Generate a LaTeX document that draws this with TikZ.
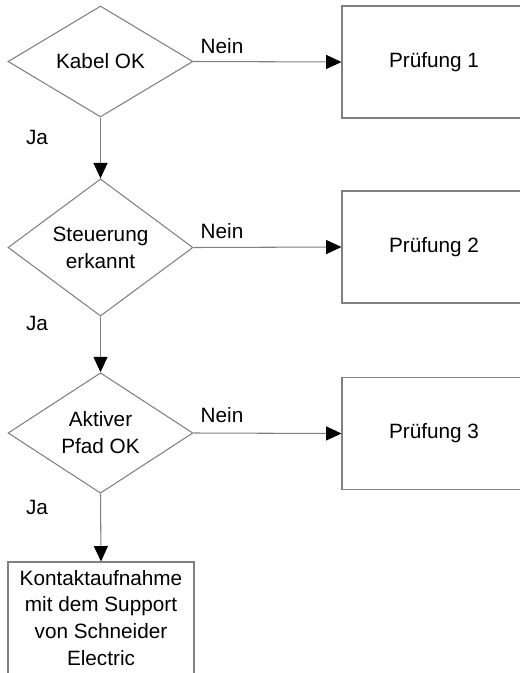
\documentclass[tikz,border=0pt]{standalone}
\usepackage{fontspec}
\setmainfont{Liberation Sans}
\usetikzlibrary{shapes.geometric,arrows.meta}
\definecolor{liniengrau}{RGB}{128,128,128}
\tikzset{
  frage/.style={diamond,draw=liniengrau,line width=0.6pt,minimum width=3.7cm,minimum height=2.22cm,inner sep=0pt,align=center},
  pruefbox/.style={rectangle,draw=liniengrau,line width=0.6pt,minimum width=3.68cm,minimum height=2.24cm,inner sep=0pt,align=center},
  pfeil/.style={draw=liniengrau,line width=0.6pt,-{Triangle[black,length=8.8pt,width=8pt]}},
}
\begin{document}
\begin{tikzpicture}[x=0.02cm,y=-0.02cm,font=\fontsize{11.8}{15.3}\selectfont]
\clip (0,0) rectangle (520,673);
% Fragen
\node[frage] (kabel) at (100.5,61.5) {Kabel OK};
\node[frage] (steuerung) at (100.5,247.5) {Steuerung\\erkannt};
\node[frage] (pfad) at (100.5,433) {Aktiver\\Pfad OK};
% Pruefungen
\node[pruefbox] (pruef1) at (434,62) {Prüfung 1};
\node[pruefbox] (pruef2) at (434,247) {Prüfung 2};
\node[pruefbox] (pruef3) at (434,433.5) {Prüfung 3};
\node[pruefbox,minimum width=3.72cm] (support) at (101,618) {Kontaktaufnahme\\mit dem Support\\von Schneider\\Electric};
% Pfeile
\draw[pfeil] (kabel.east) -- (pruef1.west);
\draw[pfeil] (steuerung.east) -- (pruef2.west);
\draw[pfeil] (pfad.east) -- (pruef3.west);
\draw[pfeil] (kabel.south) -- (steuerung.north);
\draw[pfeil] (steuerung.south) -- (pfad.north);
\draw[pfeil] (pfad.south) -- (support.north);
% Beschriftungen
\node (nein1) at (222,46) {Nein};
\node (nein2) at (222,231) {Nein};
\node (nein3) at (222,415) {Nein};
\node (ja1) at (37,137) {Ja};
\node (ja2) at (37,323) {Ja};
\node (ja3) at (37,507) {Ja};
\end{tikzpicture}
\end{document}
